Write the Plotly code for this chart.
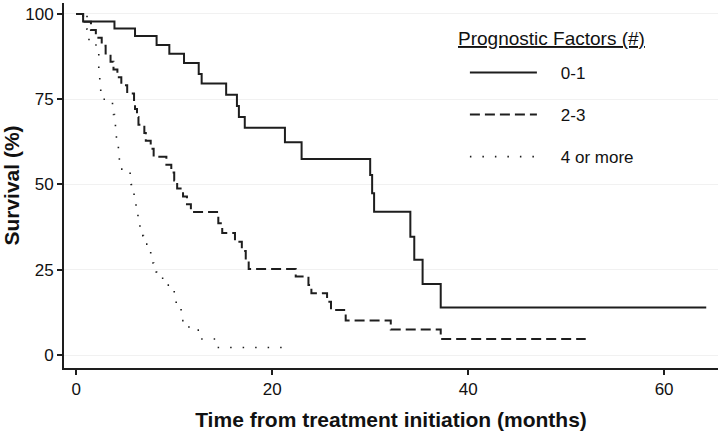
import plotly.graph_objects as go

# ---- data ----
# Prognostic factors 0-1
t_01 = [0, 0.7, 3.9, 6.0, 8.2, 9.5, 11.0, 12.5, 12.8, 15.3, 16.4, 16.6, 17.2,
        21.3, 23.0, 30.0, 30.2, 30.4, 34.1, 34.5, 35.35, 37.2, 64.3]
s_01 = [100, 97.8, 95.7, 93.5, 90.9, 88.3, 85.6, 82.4, 79.6, 76.3, 73.0, 69.8, 66.6,
        62.4, 57.5, 52.8, 47.4, 42.0, 34.7, 27.9, 20.8, 13.9, 13.9]

# Prognostic factors 2-3
t_23 = [0, 0.7, 1.5, 2.0, 2.6, 3.0, 3.5, 3.8, 4.2, 4.6, 5.2, 5.9, 6.0, 6.2, 6.35,
        6.95, 7.1, 7.6, 7.9, 9.2, 9.7, 10.0, 10.3, 10.9, 11.3, 11.7, 14.5, 14.9,
        16.2, 16.9, 17.3, 17.6, 22.4, 23.7, 24.0, 25.6, 26.0, 27.5, 32.1, 37.2, 52.0]
s_23 = [100, 97.7, 95.3, 93.0, 90.7, 88.4, 86.0, 83.7, 81.4, 79.1, 76.7, 74.4, 72.1,
        69.8, 67.5, 65.1, 62.8, 60.5, 58.1, 55.8, 53.5, 51.2, 48.8, 46.5, 44.2, 41.9,
        38.6, 35.8, 33.2, 30.5, 27.9, 25.2, 23.0, 20.5, 18.1, 15.6, 13.2, 10.1, 7.5,
        4.7, 4.7]

# Prognostic factors 4 or more
t_4p = [0, 1.1, 1.3, 2.2, 2.3, 2.4, 2.5, 3.7, 3.8, 3.9, 4.0, 4.1, 4.2, 4.3, 4.4,
        4.5, 5.5, 5.6, 5.8, 5.9, 6.1, 6.3, 6.5, 6.7, 6.85, 7.6, 7.9, 8.2, 8.9, 9.5,
        10.0, 10.2, 10.7, 10.8, 11.4, 11.5, 12.7, 14.4, 21.8]
s_4p = [100, 95.5, 90.9, 88.6, 84.1, 79.5, 75.0, 72.7, 70.5, 68.2, 65.9, 63.6, 61.4,
        59.1, 56.8, 54.5, 52.3, 50.0, 47.7, 45.5, 42.5, 40.0, 37.5, 35.0, 32.5, 27.0,
        24.3, 22.5, 20.5, 18.9, 16.6, 14.4, 11.1, 10.1, 9.0, 7.3, 4.7, 2.2, 2.2]

x_ticks = [0, 20, 40, 60]
y_ticks = [0, 25, 50, 75, 100]
group_names = ["0-1", "2-3", "4 or more"]
legend_title = "Prognostic Factors (#)"

FONT = "Arial, Liberation Sans, sans-serif"
INK = "#1e1e1e"
PAD = "\u00a0\u00a0\u00a0\u00a0"

fig = go.Figure()
series = [(t_01, s_01, "solid", 2), (t_23, s_23, "10px,5px", 2), (t_4p, s_4p, "1.5px,11px", 1.6)]
for (t, s, dash, w), name in zip(series, group_names):
    fig.add_trace(go.Scatter(
        x=t, y=s, mode="lines", name=PAD + name, line_shape="hv",
        legendgroup=name,
        line=dict(color=INK, width=w, dash=dash),
    ))

fig.update_layout(
    width=720, height=434,
    margin=dict(l=64, r=2, t=3, b=66),
    paper_bgcolor="white", plot_bgcolor="white",
    font=dict(family=FONT, color="#111", size=17),
    showlegend=True,
    legend=dict(
        x=0.613, y=0.858, xanchor="left", yanchor="top",
        bgcolor="rgba(0,0,0,0)",
        font=dict(size=17),
        itemwidth=67,
        tracegroupgap=17,
    ),
    annotations=[dict(
        text="<u>" + legend_title + "</u>", xref="paper", yref="paper",
        x=0.599, y=0.904, xanchor="left", yanchor="middle", showarrow=False,
        font=dict(size=19, family=FONT, color="#111"),
    )],
)
fig.update_xaxes(
    range=[-1.25, 65.5], tickvals=x_ticks, ticks="outside", ticklen=5, tickwidth=1.5,
    tickcolor=INK, showline=True, linecolor=INK, linewidth=2, showgrid=False,
    zeroline=False, tickfont=dict(size=17), automargin=False,
    title=dict(text="<b>Time from treatment initiation (months)</b>", font=dict(size=21),
               standoff=14),
)
fig.update_yaxes(
    range=[-3.8, 103.2], tickvals=y_ticks, ticks="outside", ticklen=5, tickwidth=1.5,
    tickcolor=INK, showline=True, linecolor=INK, linewidth=2, showgrid=True,
    gridcolor="#f1f1f1", gridwidth=1, zeroline=False, tickfont=dict(size=17),
    automargin=False,
    title=dict(text="<b>Survival (%)</b>", font=dict(size=21), standoff=6),
)

fig.write_html("out.html", config={"displayModeBar": False},
               post_script="document.body.style.margin='0';")
